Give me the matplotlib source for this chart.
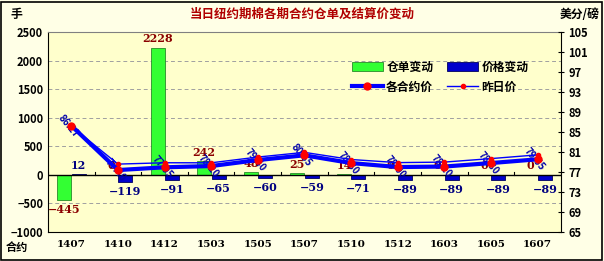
import matplotlib.pyplot as plt
import numpy as np

plt.rcParams['font.family'] = ['Noto Sans CJK SC', 'DejaVu Sans']

# data
contracts = ['1407', '1410', '1412', '1503', '1505', '1507', '1510', '1512', '1603', '1605', '1607']
warrant_change = [-445, 0, 2228, 242, 48, 25, 14, 0, 0, 0, 0]
price_change = [12, -119, -91, -65, -60, -59, -71, -89, -89, -89, -89]
price_today = [86.27, 77.40, 77.95, 78.20, 79.40, 80.35, 78.80, 78.00, 78.10, 78.80, 79.55]
price_yesterday = [86.15, 78.59, 78.86, 78.85, 80.00, 80.94, 79.51, 78.89, 78.99, 79.69, 80.44]

fig = plt.figure(figsize=(6.04, 2.61), dpi=100, facecolor='#FFFFE6')
fig.patches.append(plt.Rectangle((0.002, 0.004), 0.995, 0.99, transform=fig.transFigure,
                                 fill=False, edgecolor='black', linewidth=1.2))
ax = fig.add_axes([0.0795, 0.111, 0.849, 0.766])
ax.set_facecolor('#FFFFCC')
x = np.arange(len(contracts))

darkred = '#8B0000'
navy = '#000080'

ax.bar(x - 0.15, warrant_change, width=0.3, color='#33FF33', edgecolor='#2A8A2A',
       linewidth=0.6, label='仓单变动', zorder=2)
ax.bar(x + 0.16, price_change, width=0.3, color='#0000CC', edgecolor='#000060',
       linewidth=0.6, label='价格变动', zorder=2)

ax.set_xlim(-0.5, len(contracts) - 0.5)
ax.set_ylim(-1000, 2500)
ax.set_yticks(np.arange(-1000, 2501, 500))
for y in [-500, 500, 1000, 1500, 2000]:
    ax.axhline(y, color='#A0A0A0', linestyle=(0, (4, 3)), linewidth=0.7, zorder=0)
ax.axhline(0, color='black', linewidth=1.0, zorder=3)
for i in range(len(contracts) + 1):
    ax.plot([i - 0.5, i - 0.5], [0, 45], color='black', linewidth=0.8, zorder=3)

ax.set_xticks(x)
ax.set_xticklabels(contracts, fontsize=7.5, fontweight='bold', family=['DejaVu Serif'])
ax.tick_params(axis='x', length=0, pad=6)
ax.tick_params(axis='y', length=0, labelsize=8)
for t in ax.get_yticklabels():
    t.set_fontweight('bold')
ax.spines['top'].set_color('#808080')
ax.spines['right'].set_visible(False)

# labels on bars
for i, v in enumerate(warrant_change):
    if v < 0:
        ax.text(i - 0.15, v - 60, str(v).replace('-', '−'), ha='center', va='top',
                color=darkred, fontsize=8, fontweight='bold', family=['DejaVu Serif'], zorder=4)
    else:
        ax.text(i - 0.15, v + 60, str(v), ha='center', va='bottom',
                color=darkred, fontsize=8, fontweight='bold', family=['DejaVu Serif'], zorder=1)
for i, v in enumerate(price_change):
    if v < 0:
        ax.text(i + 0.16, v - 70, str(v).replace('-', '−'), ha='center', va='top',
                color=navy, fontsize=8, fontweight='bold', family=['DejaVu Serif'], zorder=4)
    else:
        ax.text(i + 0.16, v + 60, str(v), ha='center', va='bottom',
                color=navy, fontsize=8, fontweight='bold', family=['DejaVu Serif'], zorder=4)

# right axis prices
ax2 = ax.twinx()
ax2.set_ylim(65, 105)
ax2.set_yticks(np.arange(65, 106, 4))
ax2.tick_params(axis='y', direction='inout', length=4, labelsize=8)
for t in ax2.get_yticklabels():
    t.set_fontweight('bold')
ax2.spines['top'].set_visible(False)
ax2.spines['left'].set_visible(False)
ax2.spines['bottom'].set_visible(False)

ax2.plot(x, price_yesterday, color='#0000FF', linewidth=1.0, marker='o', markersize=3,
         markerfacecolor='red', markeredgecolor='red', label='昨日价', zorder=5)
ax2.plot(x, price_today, color='#0000FF', linewidth=3.0, marker='o', markersize=5,
         markerfacecolor='red', markeredgecolor='red', label='各合约价', zorder=6)
for i, v in enumerate(price_today):
    ax2.text(i - 0.06, v, f'{v:.2f}', rotation=-50, ha='center', va='center',
             color='#0000AA', fontsize=7, fontweight='bold', style='italic', zorder=4)

# legend
h1, l1 = ax.get_legend_handles_labels()
h2, l2 = ax2.get_legend_handles_labels()
handles = [h1[0], h2[1], h1[1], h2[0]]
labels = [l1[0], l2[1], l1[1], l2[0]]
leg = ax2.legend(handles, labels, ncol=2, loc='center', bbox_to_anchor=(0.765, 0.775),
                 frameon=False, handlelength=2.6, handletextpad=0.3,
                 columnspacing=1.2, labelspacing=0.6, prop={'weight': 'bold', 'size': 8.5})

fig.text(0.5, 0.945, '当日纽约期棉各期合约仓单及结算价变动', ha='center', va='center',
         color='#B00000', fontsize=9, fontweight='bold')
fig.text(0.018, 0.945, '手', ha='left', va='center', fontsize=8.5, fontweight='bold')
fig.text(0.993, 0.945, '美分/磅', ha='right', va='center', fontsize=8.5, fontweight='bold')
fig.text(0.01, 0.05, '合约', ha='left', va='center', fontsize=8, fontweight='bold')

fig.savefig('out.png', dpi=100, facecolor=fig.get_facecolor())
